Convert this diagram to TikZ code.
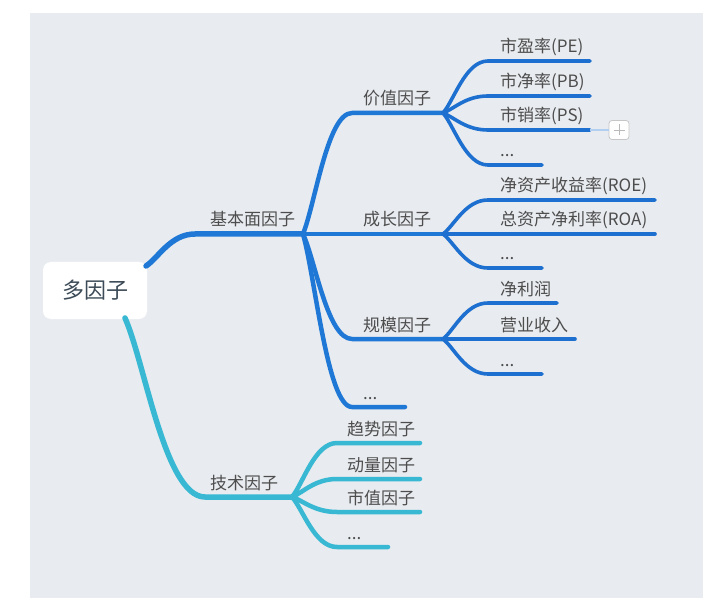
\documentclass[tikz,border=0pt]{standalone}
\usepackage{fontspec}
\setmainfont{Noto Sans CJK SC}
\usetikzlibrary{calc}
\definecolor{bgc}{HTML}{E8EBEF}
\definecolor{blu}{HTML}{1F78D6}
\definecolor{blud}{HTML}{1D6FD0}
\definecolor{tea}{HTML}{38B8D2}
\definecolor{txt}{HTML}{4D4D4D}
\definecolor{roottxt}{HTML}{3C4B57}
\newcommand\mmbranch[4]{% style, start, bend, end
  \draw[#1] let \p1=(#2), \p2=(#3) in (#2) .. controls ({\x1+0.25*(\x2-\x1)},{\y1+0.25*(\y2-\y1)}) and ({\x1+0.5*(\x2-\x1)},\y2) .. (#3) -- (#4);}
\tikzset{
  lone/.style={line width=5.5pt,line cap=round,line join=round},
  ltwo/.style={line width=4.5pt,line cap=round,line join=round},
  lthree/.style={line width=3.6pt,line cap=round,line join=round},
  lbl/.style={anchor=base west,inner sep=0pt,text=txt,font=\fontsize{17}{19}\selectfont},
}
\begin{document}
\begin{tikzpicture}[x=1pt,y=-1pt]
\useasboundingbox (0,0) rectangle (720,612);
\fill[white] (0,0) rectangle (720,612);
\fill[bgc] (30,13) rectangle (703,598);

% root
\node[draw=none,fill=white,rounded corners=8pt,minimum width=104pt,minimum height=57pt,inner sep=0pt,
      text=roottxt,font=\fontsize{22}{24}\selectfont] (root) at (95,290.5) {多因子};
\coordinate (rb) at (146,266);
\coordinate (rt) at (125,318);

% level 1
\coordinate (b1) at (195,234);
\coordinate (j1) at (303,234);
\coordinate (b2) at (205,497);
\coordinate (j2) at (292,497);
\mmbranch{lone,blu}{rb}{b1}{j1}
\mmbranch{lone,tea}{rt}{b2}{j2}
\node[lbl] (n1) at (210,226) {基本面因子};
\node[lbl] (n2) at (210,489) {技术因子};

% level 2 blue
\coordinate (bv) at (352,113); \coordinate (jv) at (443,113);
\coordinate (bc) at (352,234); \coordinate (jc) at (443,234);
\coordinate (bs) at (352,339); \coordinate (js) at (443,339);
\coordinate (bd) at (352,407); \coordinate (ed) at (405,407);
\mmbranch{ltwo,blu}{j1}{bv}{jv}
\mmbranch{ltwo,blu}{j1}{bc}{jc}
\mmbranch{ltwo,blu}{j1}{bs}{js}
\mmbranch{ltwo,blu}{j1}{bd}{ed}
\node[lbl] (v) at (363,105) {价值因子};
\node[lbl] (c) at (363,226) {成长因子};
\node[lbl] (s) at (363,331) {规模因子};
\node[lbl] (d) at (363,399) {...};

% level 3 value
\coordinate (bpe) at (488,61);  \coordinate (epe) at (590,61);
\coordinate (bpb) at (488,96);  \coordinate (epb) at (590,96);
\coordinate (bps) at (488,130); \coordinate (eps) at (590,130);
\coordinate (bvd) at (488,165); \coordinate (evd) at (542,165);
\mmbranch{lthree,blud}{jv}{bpe}{epe}
\mmbranch{lthree,blud}{jv}{bpb}{epb}
\mmbranch{lthree,blud}{jv}{bps}{eps}
\mmbranch{lthree,blud}{jv}{bvd}{evd}
\node[lbl] (pe) at (500,53) {市盈率(PE)};
\node[lbl] (pb) at (500,88) {市净率(PB)};
\node[lbl] (ps) at (500,122) {市销率(PS)};
\node[lbl] (vd) at (500,157) {...};

% collapse marker
\node[draw=gray!45,fill=white!96!bgc,rounded corners=3pt,minimum width=20pt,minimum height=19pt,inner sep=0pt,line width=0.8pt] (plus) at (619,130) {};
\draw[blu!35,line width=2pt] (eps) -- (plus.west);
\draw[gray!55,line width=0.9pt] ($(plus.center)+(-5.5,0)$) -- ($(plus.center)+(5.5,0)$)
  ($(plus.center)+(0,-5.5)$) -- ($(plus.center)+(0,5.5)$);

% level 3 growth
\coordinate (broe) at (488,200); \coordinate (eroe) at (655,200);
\coordinate (broa) at (488,234); \coordinate (eroa) at (655,234);
\coordinate (bcd) at (488,268);  \coordinate (ecd) at (542,268);
\mmbranch{lthree,blud}{jc}{broe}{eroe}
\mmbranch{lthree,blud}{jc}{broa}{eroa}
\mmbranch{lthree,blud}{jc}{bcd}{ecd}
\node[lbl] (roe) at (500,192) {净资产收益率(ROE)};
\node[lbl] (roa) at (500,226) {总资产净利率(ROA)};
\node[lbl] (cd) at (500,260) {...};

% level 3 size
\coordinate (bnp) at (488,303); \coordinate (enp) at (557,303);
\coordinate (brv) at (488,339); \coordinate (erv) at (575,339);
\coordinate (bsd) at (488,374); \coordinate (esd) at (542,374);
\mmbranch{lthree,blud}{js}{bnp}{enp}
\mmbranch{lthree,blud}{js}{brv}{erv}
\mmbranch{lthree,blud}{js}{bsd}{esd}
\node[lbl] (np) at (500,295) {净利润};
\node[lbl] (rv) at (500,331) {营业收入};
\node[lbl] (sd) at (500,366) {...};

% level 2 teal
\coordinate (bt1) at (337,443); \coordinate (et1) at (420,443);
\coordinate (bt2) at (337,479); \coordinate (et2) at (420,479);
\coordinate (bt3) at (337,512); \coordinate (et3) at (420,512);
\coordinate (bt4) at (337,547); \coordinate (et4) at (388,547);
\mmbranch{ltwo,tea}{j2}{bt1}{et1}
\mmbranch{ltwo,tea}{j2}{bt2}{et2}
\mmbranch{ltwo,tea}{j2}{bt3}{et3}
\mmbranch{ltwo,tea}{j2}{bt4}{et4}
\node[lbl] (t1) at (347,435) {趋势因子};
\node[lbl] (t2) at (347,471) {动量因子};
\node[lbl] (t3) at (347,504) {市值因子};
\node[lbl] (t4) at (347,539) {...};
\end{tikzpicture}
\end{document}
